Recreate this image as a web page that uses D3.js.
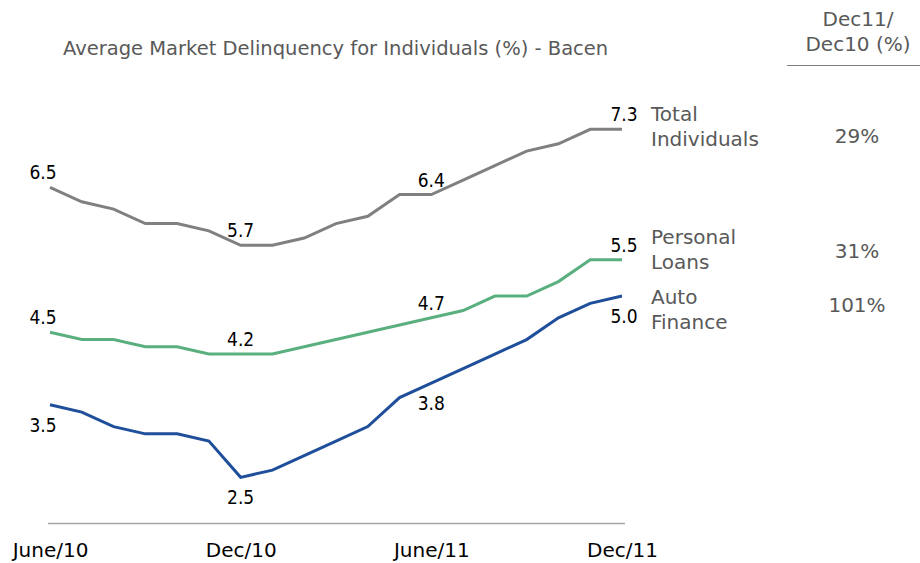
<!DOCTYPE html>
<html>
<head>
<meta charset="utf-8">
<script src="https://cdn.jsdelivr.net/npm/d3@7"></script>
<style>
	html, body { margin: 0; padding: 0; background: #fff; }
</style>
</head>
<body>
<div id="chart"></div>
<script>
// delinquency chart

const width = 920;
const height = 563;

const months = ["June/10", "Jul/10", "Aug/10", "Sep/10", "Oct/10", "Nov/10", "Dec/10",
	"Jan/11", "Feb/11", "Mar/11", "Apr/11", "May/11", "June/11",
	"Jul/11", "Aug/11", "Sep/11", "Oct/11", "Nov/11", "Dec/11"];
const tickLabels = ["June/10", "Dec/10", "June/11", "Dec/11"];

const totalIndividuals = [6.5, 6.3, 6.2, 6.0, 6.0, 5.9, 5.7, 5.7, 5.8, 6.0, 6.1, 6.4, 6.4, 6.6, 6.8, 7.0, 7.1, 7.3, 7.3];
const personalLoans = [4.5, 4.4, 4.4, 4.3, 4.3, 4.2, 4.2, 4.2, 4.3, 4.4, 4.5, 4.6, 4.7, 4.8, 5.0, 5.0, 5.2, 5.5, 5.5];
const autoFinance = [3.5, 3.4, 3.2, 3.1, 3.1, 3.0, 2.5, 2.6, 2.8, 3.0, 3.2, 3.6, 3.8, 4.0, 4.2, 4.4, 4.7, 4.9, 5.0];

const seriesNames = [["Total", "Individuals"], ["Personal", "Loans"], ["Auto", "Finance"]];
const growth = ["29%", "31%", "101%"];
const labelIndexes = [0, 6, 12, 18];

const title = "Average Market Delinquency for Individuals (%) - Bacen";
const tableHeader = ["Dec11/", "Dec10 (%)"];

const font = "'DejaVu Sans', Verdana, sans-serif";
const condensed = "'DejaVu Sans Condensed', 'DejaVu Sans', sans-serif";

const series = [
	{ values: totalIndividuals, color: "#808080", below: false, nameY: 121, growthY: 143 },
	{ values: personalLoans, color: "#5aaf7e", below: false, nameY: 244, growthY: 258 },
	{ values: autoFinance, color: "#1f4e9a", below: true, nameY: 304, growthY: 312 }
];

const svg = d3.select("#chart").append("svg")
	.attr("width", width)
	.attr("height", height)
	.attr("viewBox", [0, 0, width, height])
	.style("font-family", font);

const x = d3.scalePoint()
	.domain(months)
	.range([50, 622]);

const y = d3.scaleLinear()
	.domain([2, 7.5])
	.range([513.6, 114.8]);

// title
svg.append("text")
	.attr("x", 63)
	.attr("y", 55)
	.attr("fill", "#595959")
	.style("font-size", "19.5px")
	.text(title);

// baseline axis
svg.append("line")
	.attr("x1", 48).attr("x2", 625)
	.attr("y1", 523.5).attr("y2", 523.5)
	.attr("stroke", "#a6a6a6")
	.attr("stroke-width", 1.5);

const xAxis = svg.append("g")
	.attr("transform", "translate(0,523)")
	.call(d3.axisBottom(x).tickValues(tickLabels).tickSize(0).tickPadding(20));
xAxis.select(".domain").remove();
xAxis.selectAll("text")
	.attr("fill", "#000")
	.style("font-family", font)
	.style("font-size", "20px");

const line = d3.line()
	.x((d, i) => x(months[i]))
	.y(d => y(d));

series.forEach(s => {
	svg.append("path")
		.datum(s.values)
		.attr("fill", "none")
		.attr("stroke", s.color)
		.attr("stroke-width", 3)
		.attr("stroke-linejoin", "miter")
		.attr("d", line);

	labelIndexes.forEach(i => {
		const shift = i === 0 ? -7 : (i === months.length - 1 ? 2 : 0);
		svg.append("text")
			.attr("x", x(months[i]) + shift)
			.attr("y", y(s.values[i]) + (s.below ? 27 : -8))
			.attr("text-anchor", "middle")
			.attr("fill", "#000")
			.style("font-family", condensed)
			.style("font-size", "19px")
			.text(s.values[i].toFixed(1));
	});
});

// series names on the right
series.forEach((s, k) => {
	svg.append("text")
		.attr("x", 651)
		.attr("y", s.nameY)
		.attr("fill", "#595959")
		.style("font-size", "20px")
		.selectAll("tspan")
		.data(seriesNames[k])
		.join("tspan")
		.attr("x", 651)
		.attr("dy", (d, i) => i === 0 ? 0 : 25)
		.text(d => d);

	svg.append("text")
		.attr("x", 857)
		.attr("y", s.growthY)
		.attr("text-anchor", "middle")
		.attr("fill", "#595959")
		.style("font-size", "20px")
		.text(growth[k]);
});

// table header
svg.selectAll("text.header")
	.data(tableHeader)
	.join("text")
	.attr("class", "header")
	.attr("x", 858)
	.attr("y", (d, i) => 26 + i * 25)
	.attr("text-anchor", "middle")
	.attr("fill", "#595959")
	.style("font-size", "20px")
	.text(d => d);

svg.append("line")
	.attr("x1", 787).attr("x2", 920)
	.attr("y1", 65.5).attr("y2", 65.5)
	.attr("stroke", "#7f7f7f")
	.attr("stroke-width", 1);
</script>
</body>
</html>
